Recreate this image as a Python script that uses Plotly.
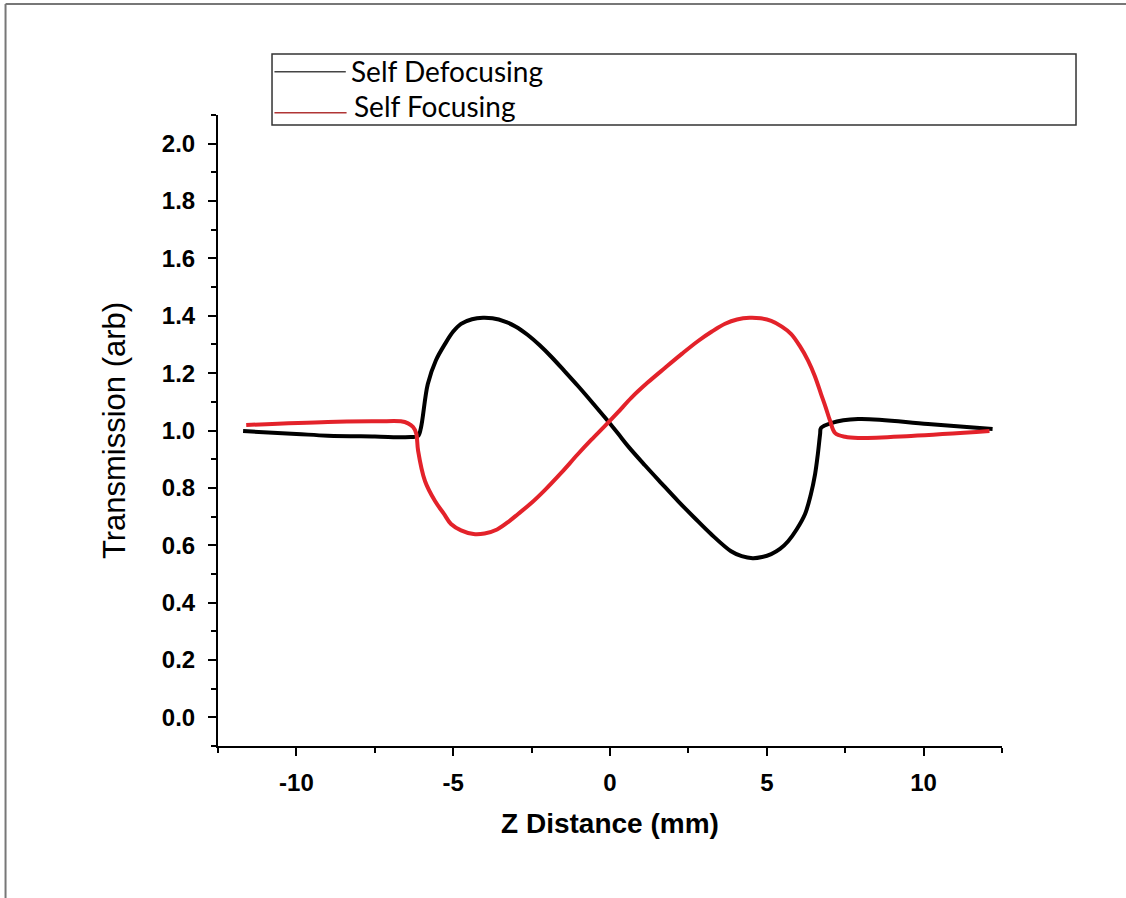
import plotly.graph_objects as go

# Self Defocusing (black)
defoc_z = [-11.7, -10.0, -9.0, -7.5, -6.35, -6.12, -6.03, -5.81, -5.55, -5.26, -5.0, -4.75,
           -4.4, -4.05, -3.75, -3.35, -3.0, -2.62, -2.25, -1.88, -1.45, -1.02, -0.6, -0.16,
           0.25, 0.6, 1.12, 1.65, 2.17, 2.7, 3.22, 3.86, 4.2, 4.55, 4.85, 5.14, 5.42,
           5.68, 5.95, 6.22, 6.40, 6.54, 6.63, 6.70, 6.73, 7.05, 7.91, 10.14, 12.2]
defoc_t = [0.998, 0.988, 0.982, 0.979, 0.977, 0.981, 1.009, 1.162, 1.245, 1.302, 1.345, 1.372,
           1.388, 1.393, 1.391, 1.380, 1.362, 1.333, 1.298, 1.258, 1.207, 1.155, 1.102, 1.045,
           0.99, 0.942, 0.878, 0.815, 0.754, 0.695, 0.639, 0.579, 0.562, 0.555, 0.559, 0.569, 0.587,
           0.614, 0.655, 0.709, 0.775, 0.848, 0.92, 0.988, 1.009, 1.026, 1.040, 1.023, 1.005]

# Self Focusing (red)
foc_z = [-11.6, -9.0, -7.4, -6.67, -6.44, -6.28, -6.18, -6.12, -5.90, -5.58, -5.3, -5.07,
         -4.75, -4.35, -4.0, -3.6, -3.2, -2.93, -2.5, -2.07, -1.55, -1.02, -0.6, -0.16,
         0.25, 0.67, 1.2, 1.75, 2.3, 2.81, 3.25, 3.67, 4.05, 4.45, 4.8, 5.14, 5.48, 5.77,
         6.05, 6.32, 6.53, 6.73, 6.88, 7.02, 7.18, 7.5, 7.91, 9.6, 12.1]
foc_t = [1.019, 1.030, 1.032, 1.032, 1.025, 1.012, 0.99, 0.93, 0.824, 0.754, 0.71, 0.674,
         0.652, 0.639, 0.641, 0.655, 0.685, 0.709, 0.748, 0.793, 0.853, 0.918, 0.967, 1.016,
         1.063, 1.113, 1.167, 1.218, 1.268, 1.312, 1.345, 1.372, 1.387, 1.393, 1.391, 1.382,
         1.362, 1.337, 1.295, 1.243, 1.19, 1.127, 1.08, 1.033, 0.991, 0.978, 0.974, 0.981, 0.998]

series_names = ["Self Defocusing", "Self Focusing"]
x_ticks = [-10, -5, 0, 5, 10]
y_ticks = [0.0, 0.2, 0.4, 0.6, 0.8, 1.0, 1.2, 1.4, 1.6, 1.8, 2.0]

BLACK = "#000000"
RED = "#e3222a"

fig = go.Figure()
fig.add_trace(go.Scatter(x=defoc_z, y=defoc_t, mode="lines", name=series_names[0],
                         line=dict(color=BLACK, width=4, shape="spline", smoothing=1.0),
                         showlegend=False))
fig.add_trace(go.Scatter(x=foc_z, y=foc_t, mode="lines", name=series_names[1],
                         line=dict(color=RED, width=4, shape="spline", smoothing=1.0),
                         showlegend=False))

axis_common = dict(showgrid=False, zeroline=False, showline=True, linecolor="black",
                   linewidth=2, ticks="outside", ticklen=8, tickwidth=2, tickcolor="black",
                   tickfont=dict(family="Liberation Sans", size=24, color="black", weight="bold"))

fig.update_xaxes(range=[-12.5, 12.5], tickvals=x_ticks, ticktext=[str(v) for v in x_ticks],
                 minor=dict(dtick=2.5, tick0=0, ticks="outside", ticklen=5, tickwidth=2,
                            tickcolor="black"),
                 ticklabelstandoff=6,
                 title=dict(text="Z Distance (mm)", standoff=19,
                            font=dict(family="Liberation Sans", size=28, color="black",
                                      weight="bold")),
                 **axis_common)
fig.update_yaxes(range=[-0.1, 2.1], tickvals=y_ticks, ticktext=[f"{v:.1f}" for v in y_ticks],
                 minor=dict(dtick=0.1, tick0=0, ticks="outside", ticklen=5, tickwidth=2,
                            tickcolor="black"),
                 ticklabelstandoff=8,
                 title=dict(text="Transmission (arb)", standoff=27,
                            font=dict(family="Liberation Sans", size=31, color="black")),
                 **axis_common)

# Manual legend (box, line samples, labels)
shapes = [
    dict(type="rect", xref="paper", yref="paper", x0=0.0689, x1=1.0944, y0=0.9842, y1=1.0967,
         line=dict(color="#333333", width=1.5), fillcolor="white", layer="above"),
    dict(type="line", xref="paper", yref="paper", x0=0.072, x1=0.163, y0=1.0685, y1=1.0685,
         line=dict(color="#444444", width=1.5), layer="above"),
    dict(type="line", xref="paper", yref="paper", x0=0.072, x1=0.164, y0=1.0035, y1=1.0035,
         line=dict(color="#b03535", width=1.5), layer="above"),
    # outer image frame (top and left)
    dict(type="line", xref="paper", yref="paper", x0=-0.271, x1=1.16, y0=1.176, y1=1.176,
         line=dict(color="#777777", width=2)),
    dict(type="line", xref="paper", yref="paper", x0=-0.271, x1=-0.271, y0=1.176, y1=-0.25,
         line=dict(color="#777777", width=2)),
]
annotations = [
    dict(text=series_names[0], xref="paper", yref="paper", x=0.1665, y=1.0695,
         xanchor="left", yanchor="middle", showarrow=False,
         font=dict(family="Lato", size=28, color="black")),
    dict(text=series_names[1], xref="paper", yref="paper", x=0.1715, y=1.0145,
         xanchor="left", yanchor="middle", showarrow=False,
         font=dict(family="Lato", size=28, color="black")),
]

fig.update_layout(width=1126, height=898, autosize=False,
                  margin=dict(l=218, r=124, t=115, b=152),
                  paper_bgcolor="white", plot_bgcolor="white",
                  shapes=shapes, annotations=annotations, showlegend=False)

fig.write_html("out.html")
